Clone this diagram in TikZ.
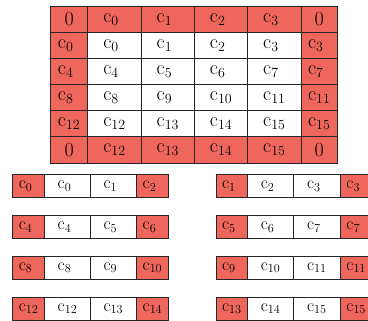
\RequirePackage{fix-cm}
\documentclass[tikz,border=0pt]{standalone}
\definecolor{padred}{RGB}{238,102,92}
% an entry c_k, set flush left in a box as wide as c_10 so all entries line up
\newcommand\cval[1]{\setbox0\hbox{$\mathrm{c}_{10}$}\makebox[\wd0][l]{$\mathrm{c}_{#1}$}}
\begin{document}
\begin{tikzpicture}[x=1pt,y=-1pt,
  cell/.style={draw=black!85, line width=0.7pt, inner sep=0pt, anchor=north west},
  bigcell/.style={cell, minimum height=26.1pt, font=\fontsize{20}{24}\selectfont},
  smallcell/.style={cell, minimum height=23pt, font=\fontsize{17.5}{21}\selectfont}]
\useasboundingbox (0,0) rectangle (368,321);

% padded 6x6 grid: border cells (zeros and copied values) in red
\foreach \i in {0,...,5}{
  \foreach \j/\x/\w in {0/50/37.5, 1/87.5/53.3, 2/140.8/53.3, 3/194.1/53.3, 4/247.4/53.3, 5/300.7/36.3}{
    \pgfmathtruncatemacro\k{\i==0 ? \j-1 : (\i==5 ? 11+\j : (\j==0 ? 4*(\i-1) : (\j==5 ? 4*(\i-1)+3 : 4*(\i-1)+\j-1)))}
    \pgfmathtruncatemacro\edge{(\i==0)||(\i==5)||(\j==0)||(\j==5)}
    \pgfmathtruncatemacro\corner{((\i==0)||(\i==5))&&((\j==0)||(\j==5))}
    \ifnum\edge=1 \def\fc{padred}\else\def\fc{white}\fi
    \ifnum\corner=1 \def\txt{$0$}\else\def\txt{\cval{\k}}\fi
    \node[bigcell, fill=\fc, minimum width=\w pt] (t-\i-\j) at ({\x},{6+26.1*\i}) {\txt};
  }
}

% row strips: left group and right group
\foreach \r in {0,...,3}{
  \pgfmathsetmacro\y{174.4+40.8*\r}
  \pgfmathtruncatemacro\a{4*\r}
  \pgfmathtruncatemacro\b{4*\r+1}
  \pgfmathtruncatemacro\c{4*\r+2}
  \pgfmathtruncatemacro\d{4*\r+3}
  \node[smallcell, fill=padred, minimum width=32pt]   (l-\r-0) at (12.3,\y)  {\cval{\a}};
  \node[smallcell, fill=white,  minimum width=45.8pt] (l-\r-1) at (44.3,\y)  {\cval{\a}};
  \node[smallcell, fill=white,  minimum width=45.8pt] (l-\r-2) at (90.1,\y)  {\cval{\b}};
  \node[smallcell, fill=padred, minimum width=32.4pt] (l-\r-3) at (135.9,\y) {\cval{\c}};
  \node[smallcell, fill=padred, minimum width=31.6pt] (r-\r-0) at (215.7,\y) {\cval{\b}};
  \node[smallcell, fill=white,  minimum width=46pt]   (r-\r-1) at (247.3,\y) {\cval{\c}};
  \node[smallcell, fill=white,  minimum width=46.4pt] (r-\r-2) at (293.3,\y) {\cval{\d}};
  \node[smallcell, fill=padred, minimum width=32.3pt] (r-\r-3) at (339.7,\y) {\cval{\d}};
}
\end{tikzpicture}
\end{document}
